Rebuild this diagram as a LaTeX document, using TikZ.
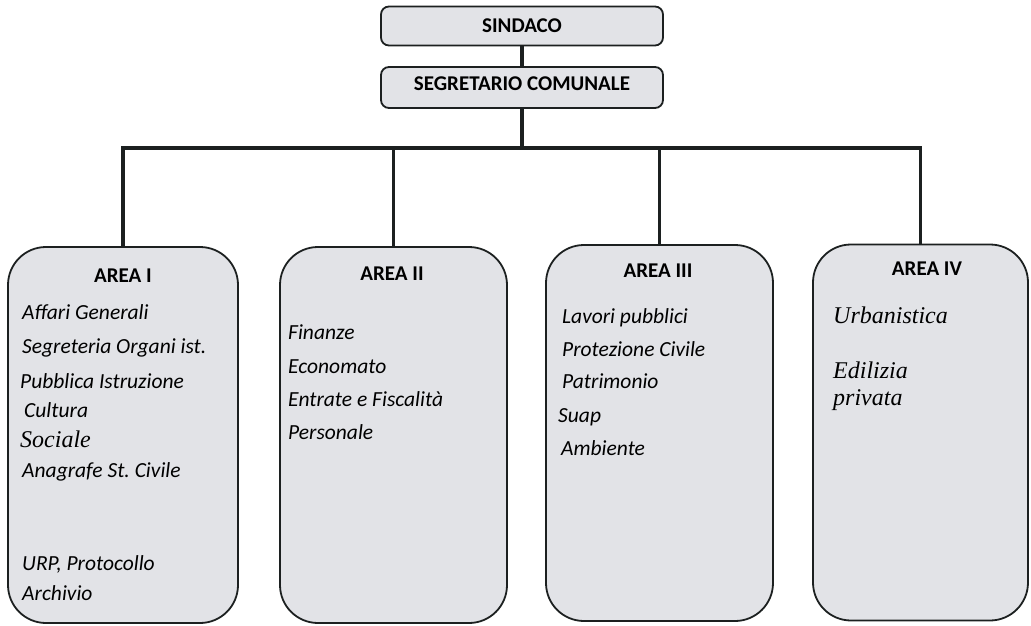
\documentclass[tikz,border=0pt]{standalone}
\usepackage{fontspec}
\setmainfont{Carlito}
\newfontfamily\serifit{Liberation Serif}
\definecolor{boxfill}{RGB}{226,227,231}
\definecolor{inkline}{RGB}{28,32,32}
\frenchspacing
\begin{document}
\begin{tikzpicture}[x=1pt,y=-1pt,
  topbox/.style={draw=inkline,line width=1.8pt,fill=boxfill,rounded corners=8pt,inner sep=0pt},
  areabox/.style={draw=inkline,line width=1.8pt,fill=boxfill,rounded corners=38pt,inner sep=0pt,minimum height=376pt},
  conn/.style={draw=inkline,line width=4pt},
  ttl/.style={font=\fontsize{21}{24}\selectfont\bfseries,inner sep=0pt,anchor=base},
  item/.style={font=\fontsize{21.5}{24}\selectfont\itshape,inner sep=0pt,anchor=base west},
  sitem/.style={font=\fontsize{24}{26}\selectfont\serifit\itshape,inner sep=0pt,anchor=base west}]
\useasboundingbox (0,0) rectangle (1031,626);
% top boxes
\node[topbox,minimum width=282pt,minimum height=39pt] (sind) at (522,26) {};
\node[topbox,minimum width=282pt,minimum height=41pt] (segr) at (522,87.5) {};
\node[ttl] (tsind) at (522,33) {SINDACO};
\node[ttl] (tsegr) at (522,91) {SEGRETARIO COMUNALE};
% area boxes
\node[areabox,minimum width=230pt] (a1) at (123,435) {};
\node[areabox,minimum width=227pt] (a2) at (393.5,435) {};
\node[areabox,minimum width=227pt] (a3) at (659.5,433) {};
\node[areabox,minimum width=215pt] (a4) at (920.5,432.5) {};
% connectors
\coordinate (bar) at (522,148);
\draw[conn] (sind.south) -- (segr.north);
\draw[conn] (segr.south) -- (bar);
\draw[conn,line width=3.5pt] (a1.north) |- (bar);
\draw[conn,line width=3.5pt] (a4.north) |- (bar);
\draw[conn,line width=3.5pt] (a2.north) -- (a2.north |- bar);
\draw[conn,line width=3.5pt] (a3.north) -- (a3.north |- bar);
% AREA I
\node[ttl] (t1) at (123,282) {AREA I};
\node[item] (i11) at (22,319) {Affari Generali};
\node[item] (i12) at (22,353) {Segreteria Organi ist.};
\node[item] (i13) at (20,388) {Pubblica Istruzione};
\node[item] (i14) at (24,417) {Cultura};
\node[sitem] (i15) at (20,447) {Sociale};
\node[item] (i16) at (22,477) {Anagrafe St.\ Civile};
\node[item] (i17) at (22,570) {URP, Protocollo};
\node[item] (i18) at (22,600) {Archivio};
% AREA II
\node[ttl] (t2) at (392,280) {AREA II};
\node[item] (i21) at (288,339) {Finanze};
\node[item] (i22) at (288,373) {Economato};
\node[item] (i23) at (288,406) {Entrate e Fiscalità};
\node[item] (i24) at (288,439) {Personale};
% AREA III
\node[ttl] (t3) at (658,277) {AREA III};
\node[item] (i31) at (562,323) {Lavori pubblici};
\node[item] (i32) at (562,356) {Protezione Civile};
\node[item] (i33) at (562,388) {Patrimonio};
\node[item] (i34) at (558,422) {Suap};
\node[item] (i35) at (561,455) {Ambiente};
% AREA IV
\node[ttl] (t4) at (927,275) {AREA IV};
\node[sitem] (i41) at (833,323) {Urbanistica};
\node[sitem] (i42) at (833,378) {Edilizia};
\node[sitem] (i43) at (833,405) {privata};
\end{tikzpicture}
\end{document}
